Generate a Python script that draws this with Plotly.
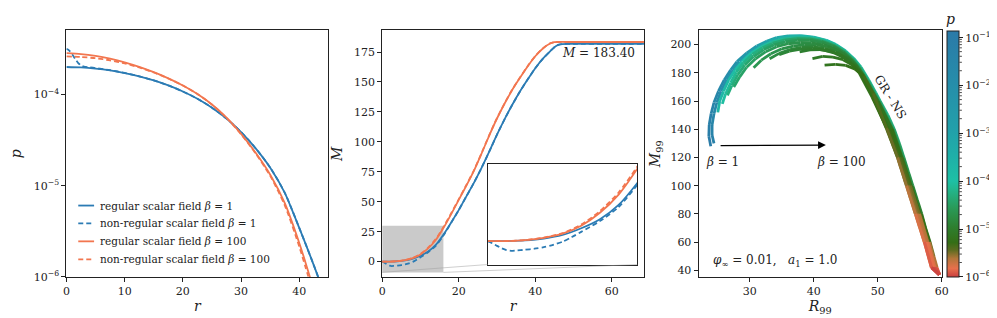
import math
import plotly.graph_objects as go

W, H = 997, 318
BLUE = "#2b7bb4"
ORANGE = "#f2764f"
FONT = "DejaVu Serif"
INK = "#222222"

# ---------------- Panel 1: pressure profiles p(r) ----------------
r_reg_b1 = [0, 2.5, 5, 7.5, 10, 12.5, 15, 17.5, 20, 22.5, 25, 27.5, 30, 32.5, 35, 37.5, 40, 41, 42, 43, 43.6]
p_reg_b1 = [1.995e-4, 1.972e-4, 1.914e-4, 1.828e-4, 1.714e-4, 1.578e-4, 1.422e-4, 1.253e-4, 1.076e-4,
            8.954e-5, 7.145e-5, 5.420e-5, 3.864e-5, 2.564e-5, 1.574e-5, 8.356e-6, 3.420e-6, 2.366e-6,
            1.618e-6, 1.094e-6, 8.59e-7]
r_non_b1 = [0, 0.5, 1, 1.5, 2, 2.5, 3, 4, 5, 7.5, 10, 12.5, 15, 17.5, 20, 22.5, 25, 27.5, 30, 32.5, 35,
            37.5, 40, 41, 42, 43, 43.6]
p_non_b1 = [3.16e-4, 3.02e-4, 2.75e-4, 2.45e-4, 2.22e-4, 2.08e-4, 2.02e-4, 1.98e-4, 1.94e-4, 1.84e-4,
            1.72e-4, 1.578e-4, 1.422e-4, 1.253e-4, 1.076e-4, 8.954e-5, 7.145e-5, 5.420e-5, 3.864e-5,
            2.564e-5, 1.574e-5, 8.356e-6, 3.420e-6, 2.366e-6, 1.618e-6, 1.094e-6, 8.59e-7]
r_reg_b100 = [0, 2.5, 5, 7.5, 10, 12.5, 15, 17.5, 20, 22.5, 25, 27.5, 30, 32.5, 35, 37.5, 40, 41, 42]
p_reg_b100 = [2.831e-4, 2.767e-4, 2.642e-4, 2.466e-4, 2.249e-4, 2.004e-4, 1.750e-4, 1.500e-4, 1.253e-4,
              1.012e-4, 7.762e-5, 5.559e-5, 3.698e-5, 2.291e-5, 1.318e-5, 6.427e-6, 2.344e-6, 1.479e-6,
              9.12e-7]
r_non_b100 = [0, 2.5, 5, 7.5, 10, 12.5, 15, 17.5, 20, 22.5, 25, 27.5, 30, 32.5, 35, 37.5, 40, 41, 41.8]
p_non_b100 = [2.612e-4, 2.570e-4, 2.489e-4, 2.360e-4, 2.188e-4, 1.972e-4, 1.738e-4, 1.493e-4, 1.250e-4,
              1.009e-4, 7.727e-5, 5.521e-5, 3.656e-5, 2.249e-5, 1.279e-5, 6.095e-6, 2.138e-6, 1.318e-6,
              8.91e-7]

# ---------------- Panel 2: mass profiles M(r) ----------------
rM_b1 = [0, 2, 4, 6, 8, 10, 12, 14, 16, 18, 20, 22, 24, 26, 28, 30, 32, 34, 36, 38, 40, 42, 44, 45, 46, 47, 50, 60, 70]
M_reg_b1 = [0, 0.03, 0.3, 1.0, 2.4, 5.0, 8.5, 14.0, 22.5, 32.5, 43.0, 54.5, 66.0, 78.5, 92.0, 106.0, 119.0,
            131.0, 142.0, 152.0, 161.5, 169.5, 176.0, 179.0, 181.0, 181.7, 181.8, 181.8, 181.8]
rM_non_b1 = [0, 0.5, 1, 1.5, 2, 2.5, 3, 4, 5, 6, 7, 8, 9, 10, 12, 14, 16, 18, 20, 22, 24, 26, 28, 30, 32, 34,
             36, 38, 40, 42, 44, 45, 46, 47, 50, 60, 70]
M_non_b1 = [0, -0.8, -1.8, -2.7, -3.4, -3.7, -3.6, -3.3, -2.9, -2.3, -1.4, -0.2, 1.6, 3.6, 7.8, 13.2, 21.8,
            32.3, 43.0, 54.5, 66.0, 78.5, 92.0, 106.0, 119.0, 131.0, 142.0, 152.0, 161.5, 169.5, 176.0,
            179.0, 181.0, 181.7, 181.8, 181.8, 181.8]
rM_b100 = [0, 2, 4, 6, 8, 10, 12, 14, 16, 18, 20, 22, 24, 26, 28, 30, 32, 34, 36, 38, 40, 42, 44, 45, 46, 50, 60, 70]
M_reg_b100 = [0, 0.05, 0.4, 1.3, 2.9, 6.0, 11.0, 18.0, 28.0, 39.5, 51.5, 63.5, 76.0, 90.5, 105.5, 119.5,
              132.0, 143.5, 153.5, 163.0, 171.5, 178.0, 182.3, 183.2, 183.4, 183.4, 183.4, 183.4]
M_non_b100 = [0, 0.05, 0.45, 1.4, 3.1, 6.4, 11.6, 18.8, 28.8, 40.2, 52.0, 64.0, 76.4, 90.8, 105.8, 119.8,
              132.2, 143.7, 153.7, 163.2, 171.6, 178.1, 182.4, 183.3, 183.5, 183.5, 183.5, 183.5]
inset_xlim = [0, 16]
inset_ylim = [-9, 30]

# ---------------- Panel 3: M99 vs R99 sequences, coloured by log10 p ----------------
R_c1 = [23.9, 23.6, 23.65, 23.95, 24.4, 25.1, 26.0, 27.0, 28.0, 29.5, 31.1, 32.7, 34.2, 36.0, 38.0, 40.0, 42.0,
        43.5, 45.0, 46.3, 47.4, 48.6, 49.7, 50.4, 51.6, 52.6, 53.4, 54.1, 54.8, 55.5, 56.2, 56.9, 57.5, 58.2,
        58.8, 59.3, 59.7]
M_c1 = [128, 135, 143, 151, 159, 167, 175, 182, 188, 194, 199, 202.5, 205, 206.2, 206.3, 205.3, 203, 200, 195.5,
        190, 184, 175, 166, 160, 150, 140, 130, 120, 110, 100, 90, 80, 70, 60, 50, 42, 37]
lp_c1 = [-0.9, -1.0, -1.15, -1.3, -1.45, -1.6, -1.8, -2.0, -2.2, -2.45, -2.7, -2.95, -3.15, -3.35, -3.5, -3.65,
         -3.75, -3.85, -3.95, -4.0, -4.05, -4.1, -4.15, -4.2, -4.25, -4.3, -4.4, -4.5, -4.6, -4.7, -4.85, -5.0,
         -5.15, -5.35, -5.55, -5.75, -5.95]
R_c2 = [24.4, 24.1, 24.1, 24.4, 24.85, 25.5, 26.4, 27.4, 28.4, 29.9, 31.4, 33.0, 34.5, 36.2, 38.0, 40.0, 41.9,
        43.4, 44.9, 46.2, 47.3, 48.5, 50.3, 52.5, 54.0, 55.4, 56.8, 58.1, 59.2, 59.7]
M_c2 = [130, 136, 143, 151, 159, 167, 175, 182, 188, 194, 198.7, 202.2, 204.6, 205.8, 205.9, 205, 202.8, 199.8,
        195.3, 190, 184, 175, 160, 140, 120, 100, 80, 60, 42, 37]
lp_c2 = [-1.2, -1.3, -1.45, -1.6, -1.75, -1.9, -2.1, -2.3, -2.5, -2.7, -2.95, -3.15, -3.35, -3.5, -3.65, -3.8,
         -3.9, -4.0, -4.05, -4.1, -4.15, -4.2, -4.3, -4.4, -4.55, -4.75, -5.05, -5.4, -5.8, -6.0]
R_c3 = [25.0, 25.3, 25.9, 26.7, 27.7, 28.8, 30.2, 31.8, 33.4, 35.2, 37.2, 39.2, 41.2, 43.0, 44.7, 46.1, 47.2,
        48.4, 50.2, 52.4, 53.9, 55.3, 56.7, 58.0, 59.1, 59.7]
M_c3 = [152, 160, 167, 175, 182, 188, 194, 198.5, 201.8, 204, 205, 204.8, 203.3, 200.3, 195.8, 190, 184, 175,
        160, 140, 120, 100, 80, 60, 42, 37]
lp_c3 = [-3.6, -3.68, -3.76, -3.84, -3.9, -3.95, -4.0, -4.04, -4.08, -4.12, -4.16, -4.2, -4.24, -4.28, -4.32,
         -4.36, -4.4, -4.45, -4.55, -4.65, -4.8, -4.95, -5.15, -5.45, -5.8, -6.0]
R_c4 = [25.7, 26.2, 27.0, 27.9, 29.0, 30.4, 32.0, 33.6, 35.4, 37.3, 39.3, 41.2, 43.0, 44.6, 46.0, 47.1, 48.3,
        50.1, 52.3, 53.8, 55.2, 56.6, 57.9, 59.0, 59.7]
M_c4 = [158, 165, 173, 180.5, 187, 193, 197.8, 201, 203.2, 204.2, 204, 202.5, 199.5, 195.2, 189.5, 183.5, 174.5,
        160, 140, 120, 100, 80, 60, 42, 37]
lp_c4 = [-4.0, -4.05, -4.1, -4.15, -4.2, -4.25, -4.3, -4.35, -4.4, -4.45, -4.5, -4.55, -4.6, -4.65, -4.7, -4.75,
         -4.8, -4.9, -5.0, -5.1, -5.25, -5.4, -5.6, -5.85, -6.0]
R_c5 = [26.5, 27.2, 28.1, 29.2, 30.6, 32.2, 33.8, 35.6, 37.5, 39.4, 41.3, 43.0, 44.6, 45.9, 47.0, 48.2, 50.0,
        52.2, 53.7, 55.1, 56.5, 57.8, 58.9, 59.7]
M_c5 = [164, 171, 178.5, 185.5, 191.5, 196.5, 199.8, 202, 203.2, 203, 201.6, 198.8, 194.6, 189, 183, 174, 160,
        140, 120, 100, 80, 60, 42, 37]
lp_c5 = [-4.25, -4.28, -4.32, -4.36, -4.4, -4.45, -4.5, -4.55, -4.6, -4.65, -4.7, -4.75, -4.8, -4.85, -4.9,
         -4.95, -5.05, -5.15, -5.25, -5.35, -5.5, -5.65, -5.85, -6.0]
R_c6 = [27.5, 28.4, 29.5, 30.9, 32.5, 34.2, 36.0, 37.9, 39.7, 41.5, 43.1, 44.6, 45.9, 47.0, 48.2, 50.0, 52.2,
        53.7, 55.1, 56.5, 57.8, 58.9, 59.7]
M_c6 = [170, 177, 184, 190, 195, 198.5, 200.6, 201.5, 201.2, 199.8, 197.3, 193.5, 188.3, 182.5, 173.5, 160, 140,
        120, 100, 80, 60, 42, 37]
lp_c6 = [-4.4, -4.43, -4.47, -4.51, -4.55, -4.6, -4.65, -4.7, -4.75, -4.8, -4.85, -4.9, -4.95, -5.0, -5.05,
         -5.12, -5.2, -5.3, -5.4, -5.55, -5.7, -5.88, -6.0]
R_c7 = [30.6, 31.8, 33.3, 35.0, 36.8, 38.6, 40.4, 42.2, 43.9, 45.3, 46.5, 47.7, 49.5, 51.8, 53.5, 54.9, 56.3,
        57.7, 58.8, 59.7]
M_c7 = [183.6, 189, 193.5, 197, 199, 200, 199.8, 198.5, 195.5, 191.2, 186, 179, 162, 140, 120, 100, 80, 60, 42, 37]
lp_c7 = [-4.6, -4.63, -4.66, -4.7, -4.73, -4.77, -4.8, -4.85, -4.9, -4.95, -5.0, -5.05, -5.12, -5.22, -5.32,
         -5.42, -5.55, -5.7, -5.88, -6.0]
R_c8 = [33.1, 34.6, 36.3, 38.1, 39.9, 41.7, 43.4, 44.9, 46.2, 47.5, 49.4, 51.7, 53.4, 54.8, 56.2, 57.6, 58.7, 59.7]
M_c8 = [190, 193.8, 196.5, 198, 198.3, 197.3, 195, 191.3, 186.3, 179.5, 162.5, 140, 120, 100, 80, 60, 42, 37]
lp_c8 = [-4.75, -4.78, -4.82, -4.86, -4.9, -4.94, -4.98, -5.02, -5.06, -5.1, -5.17, -5.26, -5.35, -5.45, -5.58,
         -5.72, -5.9, -6.0]
R_c9 = [34.6, 36.2, 38.0, 39.8, 41.6, 43.3, 44.8, 46.1, 47.4, 49.3, 51.6, 53.3, 54.7, 56.1, 57.5, 58.6, 59.6]
M_c9 = [192.8, 195.3, 196.8, 197.1, 196.1, 193.9, 190.5, 185.7, 179, 162.5, 140, 120, 100, 80, 60, 42, 37]
lp_c9 = [-4.85, -4.88, -4.92, -4.96, -5.0, -5.04, -5.08, -5.12, -5.16, -5.22, -5.3, -5.38, -5.48, -5.6, -5.74,
         -5.9, -6.0]
R_c10 = [37.8, 39.4, 41.0, 42.6, 44.2, 45.7, 47.1, 49.1, 51.5, 53.2, 54.6, 56.0, 57.4, 58.5, 59.6]
M_c10 = [194.8, 196.3, 196.5, 195.3, 192.7, 187.5, 180, 163, 140, 120, 100, 80, 60, 42, 37]
lp_c10 = [-4.95, -4.98, -5.01, -5.04, -5.08, -5.12, -5.17, -5.24, -5.32, -5.4, -5.5, -5.62, -5.76, -5.92, -6.0]
R_c11 = [39.8, 41.4, 43.0, 44.6, 46.1, 47.5, 49.2, 51.4, 53.1, 54.5, 55.9, 57.3, 58.4, 59.6]
M_c11 = [190, 191.6, 191.2, 189.3, 185.3, 179, 164, 140, 120, 100, 80, 60, 42, 37]
lp_c11 = [-5.05, -5.08, -5.11, -5.14, -5.18, -5.22, -5.28, -5.35, -5.43, -5.53, -5.65, -5.78, -5.93, -6.0]
R_c12 = [41.7, 43.4, 45.0, 46.4, 47.8, 49.3, 51.4, 53.1, 54.5, 55.9, 57.3, 58.4, 59.6]
M_c12 = [185.4, 186, 185.3, 182.8, 177.8, 165.5, 141, 120, 100, 80, 60, 42, 37]
lp_c12 = [-5.15, -5.18, -5.21, -5.25, -5.3, -5.35, -5.42, -5.5, -5.6, -5.7, -5.82, -5.95, -6.0]

curves = [(R_c1, M_c1, lp_c1), (R_c2, M_c2, lp_c2), (R_c3, M_c3, lp_c3), (R_c4, M_c4, lp_c4),
          (R_c5, M_c5, lp_c5), (R_c6, M_c6, lp_c6), (R_c7, M_c7, lp_c7), (R_c8, M_c8, lp_c8),
          (R_c9, M_c9, lp_c9), (R_c10, M_c10, lp_c10), (R_c11, M_c11, lp_c11), (R_c12, M_c12, lp_c12)]

cb_tickvals = [-6, -5, -4, -3, -2, -1]
cb_ticktext = ["10<sup>\u22126</sup>", "10<sup>\u22125</sup>", "10<sup>\u22124</sup>",
               "10<sup>\u22123</sup>", "10<sup>\u22122</sup>", "10<sup>\u22121</sup>"]
LP_MIN, LP_MAX = -6.0, -0.86

CS = [
    [0.0, (200, 62, 62)],
    [0.035, (232, 112, 76)],
    [0.075, (178, 118, 58)],
    [0.11, (92, 108, 32)],
    [0.14, (52, 110, 22)],
    [0.2, (46, 126, 46)],
    [0.28, (42, 154, 88)],
    [0.36, (34, 184, 144)],
    [0.39, (30, 192, 165)],
    [0.5, (31, 174, 168)],
    [0.6, (34, 160, 170)],
    [0.8, (38, 140, 170)],
    [1.0, (43, 122, 168)],
]


def cmap(t):
    t = min(max(t, 0.0), 1.0)
    for i in range(len(CS) - 1):
        t0, c0 = CS[i]
        t1, c1 = CS[i + 1]
        if t <= t1:
            f = (t - t0) / (t1 - t0) if t1 > t0 else 0
            c = [round(c0[k] + f * (c1[k] - c0[k])) for k in range(3)]
            return "rgb(%d,%d,%d)" % tuple(c)
    return "rgb(%d,%d,%d)" % CS[-1][1]


plotly_cs = [[t, "rgb(%d,%d,%d)" % c] for t, c in CS]


def px_dom(a, b):
    return [a / W, b / W]


def py_dom(top, bottom):
    return [(H - bottom) / H, (H - top) / H]


X1 = px_dom(55, 320)
X2 = px_dom(374.3, 639)
X3 = px_dom(694.3, 940)
YD = py_dom(23, 275)
X4 = px_dom(481, 632.3)
Y4 = py_dom(159, 262.3)

fig = go.Figure()

series = [
    ("regular scalar field <i>\u03b2</i> = 1", BLUE, "solid"),
    ("non-regular scalar field <i>\u03b2</i> = 1", BLUE, "5px,3px"),
    ("regular scalar field <i>\u03b2</i> = 100", ORANGE, "solid"),
    ("non-regular scalar field <i>\u03b2</i> = 100", ORANGE, "5px,3px"),
]
p_data = [(r_reg_b1, p_reg_b1), (r_non_b1, p_non_b1), (r_reg_b100, p_reg_b100), (r_non_b100, p_non_b100)]
m_data = [(rM_b1, M_reg_b1), (rM_non_b1, M_non_b1), (rM_b100, M_reg_b100), (rM_b100, M_non_b100)]

for (name, col, dash), (rr, pp) in zip(series, p_data):
    fig.add_trace(go.Scatter(x=rr, y=pp, mode="lines", name=name, showlegend=False, xaxis="x", yaxis="y",
                             line=dict(color=col, width=1.8, dash=dash, shape="spline", smoothing=0.7)))
for (name, col, dash), (rr, mm) in zip(series, m_data):
    fig.add_trace(go.Scatter(x=rr, y=mm, mode="lines", showlegend=False, xaxis="x2", yaxis="y2",
                             line=dict(color=col, width=1.8, dash=dash, shape="spline", smoothing=0.7)))
    fig.add_trace(go.Scatter(x=rr, y=mm, mode="lines", showlegend=False, xaxis="x4", yaxis="y4",
                             line=dict(color=col, width=1.8, dash=dash, shape="spline", smoothing=0.7)))

# Panel 3 segments coloured by pressure
for R, M, LP in curves:
    for i in range(len(R) - 1):
        t = ((LP[i] + LP[i + 1]) / 2 - LP_MIN) / (LP_MAX - LP_MIN)
        fig.add_trace(go.Scatter(x=[R[i], R[i + 1]], y=[M[i], M[i + 1]], mode="lines", showlegend=False,
                                 xaxis="x3", yaxis="y3", hoverinfo="skip",
                                 line=dict(color=cmap(t), width=2.8)))

# colorbar carrier
CB_X0 = 945
CB_T = 12
fig.add_trace(go.Scatter(x=[0], y=[0], xaxis="x3", yaxis="y3", mode="markers", showlegend=False,
                         marker=dict(color=[-3], cmin=LP_MIN, cmax=LP_MAX, colorscale=plotly_cs, size=1,
                                     showscale=True,
                                     colorbar=dict(x=CB_X0 / W, xanchor="left", y=YD[0], yanchor="bottom",
                                                   len=YD[1] - YD[0], lenmode="fraction", thickness=CB_T,
                                                   thicknessmode="pixels", xpad=0, ypad=0,
                                                   outlinecolor=INK, outlinewidth=1,
                                                   tickvals=cb_tickvals, ticktext=cb_ticktext,
                                                   ticks="outside", ticklen=4, tickcolor=INK,
                                                   tickfont=dict(size=11, color=INK, family=FONT)))))

# minor log ticks on the colorbar
for k in range(-6, 0):
    for m in range(2, 10):
        lv = k + math.log10(m)
        if lv > LP_MAX:
            continue
        fy = YD[0] + (lv - LP_MIN) / (LP_MAX - LP_MIN) * (YD[1] - YD[0])
        fig.add_shape(type="line", xref="paper", yref="paper", x0=(CB_X0 + CB_T + 1) / W,
                      x1=(CB_X0 + CB_T + 3.5) / W, y0=fy, y1=fy, line=dict(color=INK, width=0.8))

ax = dict(showline=True, linecolor=INK, linewidth=1.1, mirror=True, ticks="outside", ticklen=4,
          tickwidth=1, tickcolor=INK, showgrid=False, zeroline=False,
          tickfont=dict(size=11, color=INK, family=FONT))
tfont = dict(size=14, color=INK, family=FONT)

fig.update_layout(
    width=W, height=H, margin=dict(l=0, r=0, t=0, b=0), autosize=False,
    paper_bgcolor="white", plot_bgcolor="white", showlegend=False,
    font=dict(family=FONT, color=INK, size=11),
    xaxis=dict(ax, domain=X1, range=[0, 45], tickvals=[0, 10, 20, 30, 40],
               title=dict(text="<i>r</i>", font=tfont, standoff=4)),
    yaxis=dict(ax, domain=YD, type="log", range=[-6, -3.30], tickvals=[1e-6, 1e-5, 1e-4],
               ticktext=["10<sup>\u22126</sup>", "10<sup>\u22125</sup>", "10<sup>\u22124</sup>"],
               title=dict(text="<i>p</i>", font=tfont, standoff=12)),
    xaxis2=dict(ax, domain=X2, range=[0, 68.4], tickvals=[0, 20, 40, 60], anchor="y2",
                title=dict(text="<i>r</i>", font=tfont, standoff=4)),
    yaxis2=dict(ax, domain=YD, range=[-12.8, 193], tickvals=[0, 25, 50, 75, 100, 125, 150, 175], anchor="x2",
                title=dict(text="<i>M</i>", font=tfont, standoff=8)),
    xaxis3=dict(ax, domain=X3, range=[22, 60], tickvals=[30, 40, 50, 60], anchor="y3",
                title=dict(text="<i>R</i><sub>99</sub>", font=tfont, standoff=4)),
    yaxis3=dict(ax, domain=YD, range=[35.4, 210], tickvals=[40, 60, 80, 100, 120, 140, 160, 180, 200],
                anchor="x3", title=dict(text="<i>M</i><sub>99</sub>", font=tfont, standoff=6)),
    xaxis4=dict(domain=X4, range=inset_xlim, anchor="y4", showline=True, linecolor=INK, linewidth=1.2,
                mirror=True, ticks="", showticklabels=False, showgrid=False, zeroline=False),
    yaxis4=dict(domain=Y4, range=inset_ylim, anchor="x4", showline=True, linecolor=INK, linewidth=1.2,
                mirror=True, ticks="", showticklabels=False, showgrid=False, zeroline=False),
)

# hand-placed legend for panel 1 (short handles like the reference)
leg_y = [202, 220.3, 238.6, 257]
for (name, col, dash), yy in zip(series, leg_y):
    fy = (H - yy) / H
    fig.add_shape(type="line", xref="paper", yref="paper", x0=67 / W, x1=83 / W, y0=fy, y1=fy,
                  line=dict(color=col, width=1.8, dash=dash))
    fig.add_annotation(x=87 / W, y=fy, xref="paper", yref="paper", xanchor="left", yanchor="middle",
                       text=name, showarrow=False, font=dict(size=10.5, color=INK, family=FONT))

# gray zoom rectangle and connectors
fig.add_shape(type="rect", xref="x2", yref="y2", x0=inset_xlim[0], x1=inset_xlim[1], y0=inset_ylim[0],
              y1=inset_ylim[1], fillcolor="rgba(150,150,150,0.5)", line=dict(width=0), layer="below")
x2r = [0, 68.4]
y2r = [-12.8, 193]


def to_x2(fx):
    return x2r[0] + (fx - X2[0]) / (X2[1] - X2[0]) * (x2r[1] - x2r[0])


def to_y2(fy):
    return y2r[0] + (fy - YD[0]) / (YD[1] - YD[0]) * (y2r[1] - y2r[0])


for xr, xi in [(inset_xlim[0], X4[0]), (inset_xlim[1], X4[1])]:
    fig.add_shape(type="line", xref="x2", yref="y2", x0=xr, y0=inset_ylim[0], x1=to_x2(xi), y1=to_y2(Y4[0]),
                  line=dict(color="rgba(160,160,160,0.5)", width=1))

ann = dict(showarrow=False, font=dict(size=12, color=INK, family=FONT))
fig.add_annotation(x=56.5, y=174, xref="x2", yref="y2", text="<i>M</i> = 183.40", **ann)
fig.add_annotation(x=25.8, y=117, xref="x3", yref="y3", text="<i>\u03b2</i> = 1", **ann)
fig.add_annotation(x=44.3, y=117, xref="x3", yref="y3", text="<i>\u03b2</i> = 100", **ann)
fig.add_annotation(x=52.0, y=163, xref="x3", yref="y3", text="GR - NS", textangle=58, **ann)
fig.add_annotation(x=34.0, y=47, xref="x3", yref="y3",
                   text="<i>\u03c6</i><sub>\u221e</sub> = 0.01,   <i>a</i><sub>1</sub> = 1.0", **ann)
fig.add_annotation(x=41.9, y=128.8, ax=25.2, ay=128.4, xref="x3", yref="y3", axref="x3", ayref="y3",
                   text="", showarrow=True, arrowhead=2, arrowsize=1.2, arrowwidth=1.3, arrowcolor="black")
fig.add_annotation(x=956 / W, y=(H - 21) / H, xref="paper", yref="paper", yanchor="bottom",
                   text="<i>p</i>", showarrow=False, font=dict(size=14, color=INK, family=FONT))

fig.write_html("out.html")
